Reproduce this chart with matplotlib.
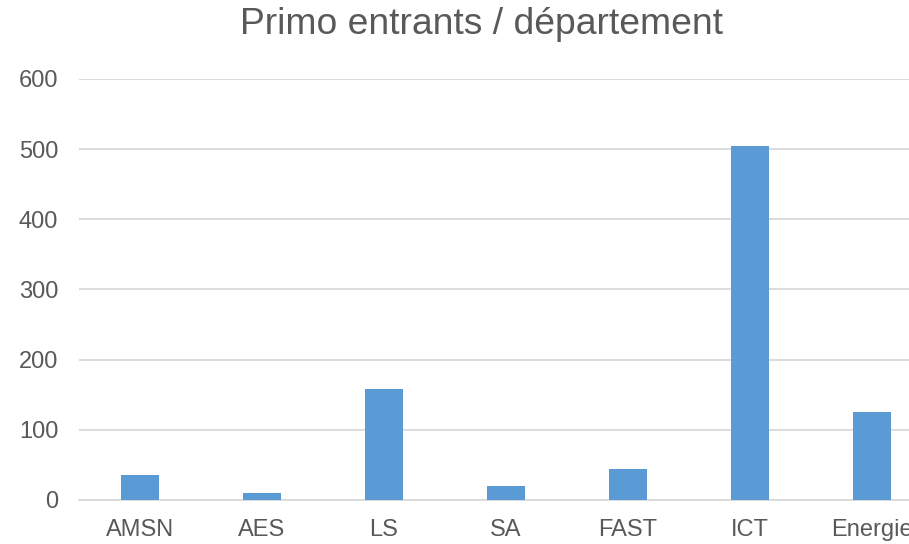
import matplotlib.pyplot as plt
import numpy as np

# Data
departements = ['AMSN', 'AES', 'LS', 'SA', 'FAST', 'ICT', 'Energie']
primo_entrants = [35, 10, 158, 20, 44, 504, 125]
y_ticks = [0, 100, 200, 300, 400, 500, 600]

bar_color = '#5B9BD5'
text_color = '#595959'
grid_color = '#D9D9D9'

plt.rcParams['font.family'] = ['Liberation Sans', 'DejaVu Sans']

fig = plt.figure(figsize=(9.09, 5.44), dpi=100)
ax = fig.add_axes([0.0869, 0.0809, 0.9395, 0.7739])

x = np.arange(len(departements))
ax.bar(x, primo_entrants, width=0.31, color=bar_color, zorder=3)

ax.set_xlim(-0.5, len(departements) - 0.5)
ax.set_ylim(0, 600)
ax.set_yticks(y_ticks)
ax.set_xticks(x)
ax.set_xticklabels(departements)

# gridlines
ax.yaxis.grid(True, color=grid_color, linewidth=1.3, zorder=0)
for s in ['top', 'right', 'left']:
    ax.spines[s].set_visible(False)
ax.spines['bottom'].set_color(grid_color)
ax.spines['bottom'].set_linewidth(1.3)

ax.tick_params(axis='both', length=0, labelsize=17, labelcolor=text_color)
ax.tick_params(axis='y', pad=15)
ax.tick_params(axis='x', pad=14)

# title
fig.text(481 / 909, 1 - 25 / 544, 'Primo entrants / département',
         ha='center', va='center', fontsize=26.8, color=text_color)

fig.savefig('out.png', dpi=100)
